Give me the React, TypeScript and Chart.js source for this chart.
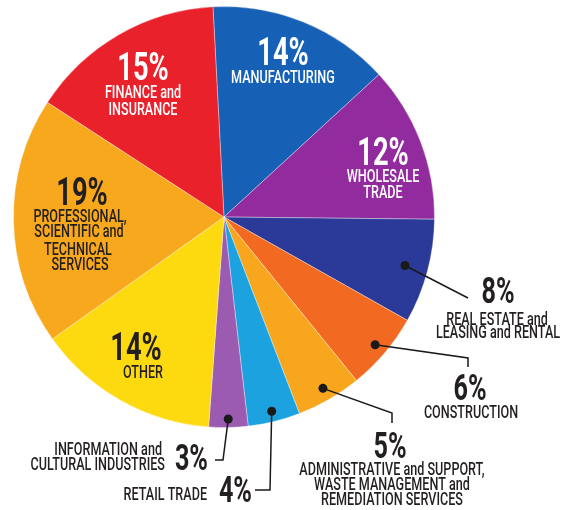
import React, { useEffect, useRef } from "react";
import { Chart, registerables } from "chart.js";

Chart.register(...registerables);

const categories = [
  "MANUFACTURING",
  "WHOLESALE TRADE",
  "REAL ESTATE and LEASING and RENTAL",
  "CONSTRUCTION",
  "ADMINISTRATIVE and SUPPORT, WASTE MANAGEMENT and REMEDIATION SERVICES",
  "RETAIL TRADE",
  "INFORMATION and CULTURAL INDUSTRIES",
  "OTHER",
  "PROFESSIONAL, SCIENTIFIC and TECHNICAL SERVICES",
  "FINANCE and INSURANCE",
];
const values = [14, 12, 8, 6, 5, 4, 3, 14, 19, 15];
const labelLines = [
  ["MANUFACTURING"],
  ["WHOLESALE", "TRADE"],
  ["REAL ESTATE and", "LEASING and RENTAL"],
  ["CONSTRUCTION"],
  ["ADMINISTRATIVE and SUPPORT,", "WASTE MANAGEMENT and", "REMEDIATION SERVICES"],
  ["RETAIL TRADE"],
  ["INFORMATION and", "CULTURAL INDUSTRIES"],
  ["OTHER"],
  ["PROFESSIONAL,", "SCIENTIFIC and", "TECHNICAL", "SERVICES"],
  ["FINANCE and", "INSURANCE"],
];
const colors = [
  "#1660b6",
  "#922c9e",
  "#2b3a98",
  "#f26a22",
  "#f8a61d",
  "#1ca3df",
  "#9a5bb1",
  "#fdd910",
  "#f8a81d",
  "#e8212b",
];

const DARK = "#231f20";
const FAMILY = "Roboto, 'Liberation Sans', sans-serif";

type Layout = {
  inside: boolean;
  color: string;
  pct: [number, number];
  pctAlign: CanvasTextAlign;
  lines: [number, number][];
  lineAlign: CanvasTextAlign;
  dot?: number;
  path?: [number, number][];
};

// text anchors relative to the pie centre (px)
const layouts: Layout[] = [
  { inside: true, color: "#ffffff", pct: [59, -152], pctAlign: "center", lines: [[59, -134]], lineAlign: "center" },
  { inside: true, color: "#ffffff", pct: [159, -52], pctAlign: "center", lines: [[159, -35], [159, -19]], lineAlign: "center" },
  { inside: false, color: DARK, pct: [274, 86], pctAlign: "center", lines: [[273, 108], [274, 121]], lineAlign: "center", dot: 0.89, path: [[244, 81]] },
  { inside: false, color: DARK, pct: [246, 183], pctAlign: "center", lines: [[247, 201]], lineAlign: "center", dot: 0.94, path: [[244, 141], [244, 150]] },
  { inside: false, color: DARK, pct: [166, 241], pctAlign: "center", lines: [[168, 258], [168, 273], [168, 288]], lineAlign: "center", dot: 0.94, path: [[168, 196], [168, 206]] },
  { inside: false, color: DARK, pct: [28, 285], pctAlign: "right", lines: [[-17, 283]], lineAlign: "right", dot: 0.95, path: [[46, 273], [31, 273]] },
  { inside: false, color: DARK, pct: [-16, 253], pctAlign: "right", lines: [[-62, 238], [-59, 253]], lineAlign: "right", dot: 0.96, path: [[-1, 243], [-9, 243]] },
  { inside: true, color: DARK, pct: [-88, 143], pctAlign: "center", lines: [[-81, 161]], lineAlign: "center" },
  { inside: true, color: DARK, pct: [-142, -12], pctAlign: "center", lines: [[-144, 5], [-145, 20], [-146, 38], [-144, 53]], lineAlign: "center" },
  { inside: true, color: "#ffffff", pct: [-81, -137], pctAlign: "center", lines: [[-81, -119], [-81, -102]], lineAlign: "center" },
];

function drawText(
  ctx: CanvasRenderingContext2D,
  text: string,
  x: number,
  y: number,
  font: string,
  align: CanvasTextAlign,
  color: string,
  sx: number
) {
  ctx.save();
  ctx.translate(x, y);
  ctx.scale(sx, 1);
  ctx.font = font;
  ctx.textAlign = align;
  ctx.textBaseline = "alphabetic";
  ctx.fillStyle = color;
  ctx.fillText(text, 0, 0);
  ctx.restore();
}

const labelPlugin = {
  id: "pieLabels",
  afterDatasetsDraw(chart: any) {
    const ctx: CanvasRenderingContext2D = chart.ctx;
    const meta = chart.getDatasetMeta(0);
    meta.data.forEach((arc: any, i: number) => {
      const L = layouts[i];
      const cx = arc.x;
      const cy = arc.y;
      const R = arc.outerRadius;
      if (!L.inside && L.dot && L.path) {
        const mid = (arc.startAngle + arc.endAngle) / 2;
        const dx = cx + Math.cos(mid) * R * L.dot;
        const dy = cy + Math.sin(mid) * R * L.dot;
        ctx.save();
        ctx.strokeStyle = "#1a1a1a";
        ctx.lineWidth = 1.5;
        ctx.beginPath();
        ctx.moveTo(dx, dy);
        L.path.forEach(([px, py]) => ctx.lineTo(cx + px, cy + py));
        ctx.stroke();
        ctx.fillStyle = "#1a1a1a";
        ctx.beginPath();
        ctx.arc(dx, dy, 4.5, 0, Math.PI * 2);
        ctx.fill();
        ctx.restore();
      }
      const pctSize = L.inside ? 39 : 36;
      drawText(ctx, values[i] + "%", cx + L.pct[0], cy + L.pct[1], `bold ${pctSize}px ${FAMILY}`, L.pctAlign, L.color, 0.7);
      labelLines[i].forEach((line, j) => {
        const [lx, ly] = L.lines[j];
        drawText(ctx, line, cx + lx, cy + ly, `500 17.5px ${FAMILY}`, L.lineAlign, L.color, 0.72);
      });
    });
  },
};

export default function App() {
  const ref = useRef<HTMLCanvasElement | null>(null);
  useEffect(() => {
    if (!ref.current) return;
    const chart = new Chart(ref.current, {
      type: "pie",
      data: {
        labels: categories,
        datasets: [
          {
            data: values,
            backgroundColor: colors,
            borderColor: "rgba(255,255,255,0.35)",
            borderWidth: 1,
          },
        ],
      },
      options: {
        responsive: false,
        animation: false,
        rotation: -3,
        layout: { padding: { left: 13, top: 6, right: 131, bottom: 82 } },
        plugins: { legend: { display: false }, tooltip: { enabled: false } },
      },
      plugins: [labelPlugin],
    });
    return () => chart.destroy();
  }, []);
  return (
    <div style={{ position: "fixed", left: 0, top: 0, width: 566, height: 510, background: "#ffffff" }}>
      <canvas ref={ref} width={566} height={510} style={{ width: 566, height: 510 }} />
    </div>
  );
}
